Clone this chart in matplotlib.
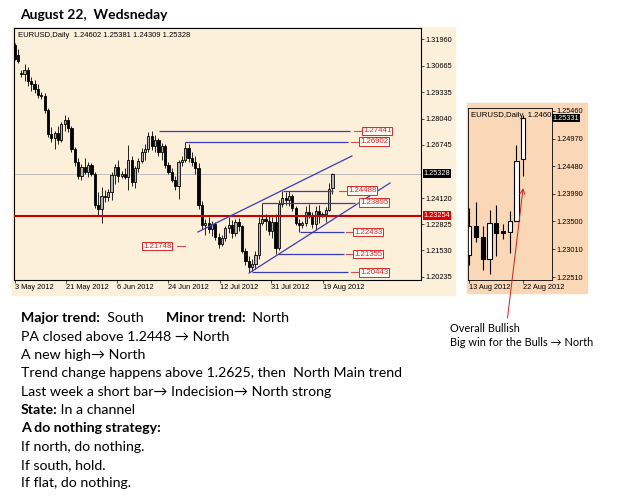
import matplotlib
matplotlib.use("Agg")
import matplotlib.pyplot as plt
from matplotlib.patches import Rectangle

W, H = 625, 503

# EURUSD daily candles, 3 May - 22 Aug 2012 (broker has short Sunday bars)
opens = [
    1.3168, 1.3120, 1.3030, 1.3025, 1.3045, 1.2990, 1.2975, 1.2950,
    1.2920, 1.2915, 1.2845, 1.2730, 1.2710, 1.2735, 1.2700, 1.2780,
    1.2795, 1.2760, 1.2655, 1.2590, 1.2520, 1.2565, 1.2540, 1.2575,
    1.2530, 1.2380, 1.2360, 1.2420, 1.2415, 1.2440, 1.2525, 1.2565,
    1.2520, 1.2530, 1.2515, 1.2600, 1.2490, 1.2560, 1.2595, 1.2640,
    1.2655, 1.2720, 1.2670, 1.2700, 1.2640, 1.2670, 1.2575, 1.2540,
    1.2500, 1.2470, 1.2590, 1.2600, 1.2660, 1.2610, 1.2590, 1.2560,
    1.2380, 1.2280, 1.2290, 1.2260, 1.2285, 1.2220, 1.2185, 1.2215,
    1.2265, 1.2280, 1.2240, 1.2295, 1.2275, 1.2150, 1.2100, 1.2070,
    1.2085, 1.2130, 1.2290, 1.2310, 1.2300, 1.2250, 1.2295, 1.2165,
    1.2385, 1.2410, 1.2400, 1.2420, 1.2365, 1.2290, 1.2280, 1.2290,
    1.2342, 1.2323, 1.2283, 1.2347, 1.2333, 1.2332, 1.2351, 1.24602,
]
highs = [
    1.3178, 1.3150, 1.3045, 1.3075, 1.3060, 1.3010, 1.2995, 1.2975,
    1.2935, 1.2930, 1.2855, 1.2765, 1.2745, 1.2770, 1.2790, 1.2822,
    1.2810, 1.2770, 1.2665, 1.2610, 1.2580, 1.2610, 1.2590, 1.2585,
    1.2540, 1.2440, 1.2465, 1.2450, 1.2455, 1.2540, 1.2580, 1.2600,
    1.2545, 1.2560, 1.2673, 1.2620, 1.2570, 1.2610, 1.2660, 1.2680,
    1.2740, 1.27441, 1.2725, 1.2710, 1.2685, 1.2680, 1.2590, 1.2560,
    1.2520, 1.2600, 1.2620, 1.26902, 1.2680, 1.2640, 1.2620, 1.2585,
    1.2395, 1.2310, 1.2320, 1.2300, 1.2295, 1.2240, 1.2230, 1.2275,
    1.2318, 1.2305, 1.2310, 1.2315, 1.2280, 1.2165, 1.2125, 1.2110,
    1.2150, 1.2320, 1.23895, 1.2335, 1.2330, 1.2320, 1.2335, 1.2400,
    1.24488, 1.2440, 1.2445, 1.2430, 1.2375, 1.2310, 1.2300, 1.2373,
    1.2385, 1.2342, 1.2371, 1.2379, 1.2345, 1.2369, 1.2486, 1.25381,
]
lows = [
    1.3095, 1.3079, 1.3010, 1.2990, 1.2965, 1.2940, 1.2930, 1.2905,
    1.2900, 1.2830, 1.2715, 1.2690, 1.2655, 1.2680, 1.2690, 1.2745,
    1.2740, 1.2640, 1.2570, 1.2505, 1.2500, 1.2530, 1.2515, 1.2520,
    1.2365, 1.2330, 1.2288, 1.2390, 1.2395, 1.2400, 1.2480, 1.2490,
    1.2510, 1.2505, 1.2452, 1.2470, 1.2460, 1.2540, 1.2585, 1.2600,
    1.2640, 1.2650, 1.2640, 1.2620, 1.2600, 1.2560, 1.2530, 1.2490,
    1.2450, 1.2405, 1.2570, 1.2590, 1.2590, 1.2570, 1.2530, 1.2360,
    1.2260, 1.2230, 1.2240, 1.2225, 1.2205, 1.2165, 1.2175, 1.2200,
    1.2240, 1.2215, 1.2225, 1.2250, 1.2140, 1.2080, 1.20443, 1.2050,
    1.2060, 1.2110, 1.2280, 1.2255, 1.2230, 1.2215, 1.21355, 1.2155,
    1.2370, 1.2380, 1.2375, 1.2350, 1.2280, 1.22433, 1.2265, 1.2272,
    1.2314, 1.2264, 1.2256, 1.2289, 1.2318, 1.2294, 1.2350, 1.24309,
]
closes = [
    1.3100, 1.3090, 1.3025, 1.3045, 1.2990, 1.2975, 1.2950, 1.2920,
    1.2915, 1.2845, 1.2730, 1.2710, 1.2735, 1.2700, 1.2780, 1.2795,
    1.2760, 1.2655, 1.2590, 1.2520, 1.2565, 1.2540, 1.2575, 1.2530,
    1.2380, 1.2360, 1.2420, 1.2415, 1.2440, 1.2525, 1.2565, 1.2520,
    1.2530, 1.2515, 1.2600, 1.2490, 1.2560, 1.2595, 1.2640, 1.2655,
    1.2720, 1.2670, 1.2700, 1.2640, 1.2670, 1.2575, 1.2540, 1.2500,
    1.2470, 1.2590, 1.2600, 1.2660, 1.2610, 1.2590, 1.2560, 1.2380,
    1.2280, 1.2290, 1.2260, 1.2285, 1.2220, 1.2185, 1.2215, 1.2265,
    1.2280, 1.2240, 1.2295, 1.2275, 1.2150, 1.2100, 1.2070, 1.2085,
    1.2130, 1.2290, 1.2310, 1.2300, 1.2250, 1.2295, 1.2165, 1.2385,
    1.2410, 1.2400, 1.2420, 1.2365, 1.2290, 1.2280, 1.2290, 1.2341,
    1.2322, 1.2283, 1.2347, 1.2330, 1.2330, 1.2351, 1.2457, 1.25328,
]
bar_index = list(range(len(opens)))

date_ticks = [0, 15.4, 30.6, 45.9, 61.4, 76.6, 92.2]
date_labels = ['3 May 2012', '21 May 2012', '6 Jun 2012', '24 Jun 2012',
               '12 Jul 2012', '31 Jul 2012', '19 Aug 2012']
price_ticks = [1.31960, 1.30665, 1.29335, 1.28040, 1.26745,
               1.24120, 1.22825, 1.21530, 1.20235]

small_date_ticks = [87, 95]
small_date_labels = ['13 Aug 2012', '22 Aug 2012']
small_price_ticks = [1.25460, 1.24970, 1.24480, 1.23990, 1.23500, 1.23010, 1.22510]

header_main = 'EURUSD,Daily  1.24602 1.25381 1.24309 1.25328'
header_small = 'EURUSD,Daily  1.24602 1.25381 1.24309 1.25331'
last_price = 1.25328
small_last_price = 1.25331
red_level = 1.23254

# horizontal level objects: price, first bar, last bar, bar where the tag sits
levels = [1.27441, 1.26902, 1.24488, 1.23895, 1.22433, 1.21355, 1.20443]
level_from = [43.2, 50.9, 80.2, 73.9, 85.3, 78.7, 71.0]
level_to = [100.2, 99.6, 95.2, 101.7, 98.4, 98.4, 99.6]
level_tag_bar = [104.1, 103.2, 99.6, 103.2, 101.4, 101.4, 103.2]
old_tag_price, old_tag_bar = 1.21748, 38.4

# channel trend lines (bar, price)
upper_x, upper_y = [54.8, 100.8], [1.22443, 1.26196]
lower_x, lower_y = [70.1, 112.2], [1.20417, 1.24863]

notes = [
    [('Major trend:', True), ('  South', False)],
    [('PA closed above 1.2448 \u2192 North', False)],
    [('A new high\u2192 North', False)],
    [('Trend change happens above 1.2625, then  North Main trend', False)],
    [('Last week a short bar\u2192 Indecision\u2192 North strong', False)],
    [('State:', True), (' In a channel', False)],
    [('A do nothing strategy:', True)],
    [('If north, do nothing.', False)],
    [('If south, hold.', False)],
    [('If flat, do nothing.', False)],
]
minor_note = [('Minor trend:', True), ('  North', False)]
side_notes = ['Overall Bullish', 'Big win for the Bulls \u2192 North']

BG_MAIN = '#fdf0da'
BG_SMALL = '#fad7b6'
BLUE = '#3b3bb3'
TAG_RED = '#d42a2a'
NOTE_FONT = ['Lato', 'DejaVu Sans']
NOTE_SIZE = 10.2
MT_SIZE = 5.3

plt.rcParams['font.family'] = ['Liberation Sans', 'DejaVu Sans']

fig = plt.figure(figsize=(W / 100, H / 100), dpi=100)


def box(x0, y0, x1, y1):
    return [x0 / W, 1 - y1 / H, (x1 - x0) / W, (y1 - y0) / H]


def panel(x0, y0, x1, y1, color):
    fig.add_artist(Rectangle((x0 / W, 1 - y1 / H), (x1 - x0) / W, (y1 - y0) / H,
                             transform=fig.transFigure, color=color, zorder=-2))


def draw_candles(ax, up_face, body_w, lw):
    ax.vlines(bar_index, lows, highs, color='black', linewidth=lw, zorder=2)
    bottoms = [min(o, c) for o, c in zip(opens, closes)]
    heights = [max(abs(c - o), 0.00004) for o, c in zip(opens, closes)]
    faces = [up_face if c >= o else 'black' for o, c in zip(opens, closes)]
    ax.bar(bar_index, heights, bottom=bottoms, width=body_w, color=faces,
           edgecolor='black', linewidth=lw, zorder=2.5)


def price_tag(ax, price, text, face):
    ax.text(1.006, price, text, transform=ax.get_yaxis_transform(), color='white',
            fontsize=MT_SIZE, va='center', ha='left', zorder=6, clip_on=False,
            bbox=dict(boxstyle='square,pad=0.08', fc=face, ec='none'))


def level_tag(ax, bar, price):
    ax.text(bar, price, f'{price:.5f}', color=TAG_RED, fontsize=MT_SIZE + 0.3,
            va='center', ha='left', zorder=5,
            bbox=dict(boxstyle='square,pad=0.1', fc='#fffaf3', ec=TAG_RED, lw=0.7))


panel(12, 27, 455, 295, BG_MAIN)
panel(467, 103, 587, 293, BG_SMALL)

# ---- main chart ----
ax = fig.add_axes(box(14, 28, 421, 279.5), facecolor=BG_MAIN)
ax.set_xlim(-0.15, 121.45)
ax.set_ylim(1.20097, 1.32518)
ax.axhline(last_price, color='#bcbcbc', linewidth=0.7, zorder=1)
draw_candles(ax, '#b4b4b4', 0.66, 0.6)
ax.axhline(red_level, color='#cc0000', linewidth=1.5, zorder=3)
ax.hlines(levels, level_from, level_to, color=BLUE, linewidth=0.9, zorder=3)
ax.plot(upper_x, upper_y, color=BLUE, linewidth=0.9, zorder=3)
ax.plot(lower_x, lower_y, color=BLUE, linewidth=0.9, zorder=3)
for lvl, end, tag in zip(levels, level_to, level_tag_bar):
    ax.plot([max(end + 0.7, tag - 2.6), tag], [lvl, lvl], color='#c85050', linewidth=0.8, zorder=3)
    level_tag(ax, tag, lvl)
ax.plot([old_tag_bar + 10.2, old_tag_bar + 12.5], [old_tag_price] * 2, color='#c85050', linewidth=0.8)
level_tag(ax, old_tag_bar, old_tag_price)

ax.text(0.009, 0.969, header_main, transform=ax.transAxes, fontsize=MT_SIZE + 0.2, va='center')
ax.yaxis.tick_right()
ax.set_yticks(price_ticks)
ax.set_yticklabels([f'{p:.5f}' for p in price_ticks])
ax.set_xticks(date_ticks)
ax.set_xticklabels(date_labels, ha='left')
ax.tick_params(axis='both', labelsize=MT_SIZE, length=2, width=0.5, pad=1.2)
for s in ax.spines.values():
    s.set_linewidth(0.8)
price_tag(ax, last_price, f'{last_price:.5f}', 'black')
price_tag(ax, red_level, f'{red_level:.5f}', '#e00000')

# ---- zoomed chart of the last days ----
axs = fig.add_axes(box(468, 108, 552, 280), facecolor=BG_SMALL)
draw_candles(axs, 'white', 0.64, 0.8)
axs.set_xlim(86.8, 99.3)
axs.set_ylim(1.22460, 1.25513)
axs.text(0.03, 0.975, header_small, transform=axs.transAxes, fontsize=MT_SIZE + 0.3,
         va='top', clip_on=True)
axs.yaxis.tick_right()
axs.set_yticks(small_price_ticks)
axs.set_yticklabels([f'{p:.5f}' for p in small_price_ticks])
axs.set_xticks(small_date_ticks)
axs.set_xticklabels(small_date_labels, ha='left')
axs.tick_params(axis='both', labelsize=MT_SIZE, length=2, width=0.5, pad=1.2)
for s in axs.spines.values():
    s.set_linewidth(0.6)
price_tag(axs, small_last_price, f'{small_last_price:.5f}', 'black')

# ---- notes overlay in pixel coordinates ----
ov = fig.add_axes([0, 0, 1, 1], zorder=5)
ov.set_xlim(0, W)
ov.set_ylim(H, 0)
ov.axis('off')

ov.text(20, 15, 'August 22,  Wedsneday', fontsize=10, fontweight='bold',
        va='center', family=NOTE_FONT)


def write_line(x, y, segments):
    first, bold = segments[0]
    t = ov.text(x, y, first, fontsize=NOTE_SIZE, fontweight='bold' if bold else 'normal',
                va='center', family=NOTE_FONT)
    for txt, bold in segments[1:]:
        t = ov.annotate(txt, xy=(1, 0), xycoords=t, va='bottom', ha='left',
                        fontsize=NOTE_SIZE, fontweight='bold' if bold else 'normal',
                        family=NOTE_FONT)


for k, segs in enumerate(notes):
    write_line(20.7, 318.3 + k * 18.33, segs)
write_line(165.7, 318.3, minor_note)

for k, line in enumerate(side_notes):
    ov.text(450, 329 + k * 14, line, fontsize=7.9, va='center', family=NOTE_FONT)

ov.annotate('', xy=(95, 1.2409), xycoords=axs.transData, xytext=(507.5, 318),
            textcoords='data',
            arrowprops=dict(arrowstyle='->,head_length=0.35,head_width=0.18',
                            color='#cc2222', lw=0.7, shrinkA=0, shrinkB=0))

fig.savefig('out.png', dpi=100)
